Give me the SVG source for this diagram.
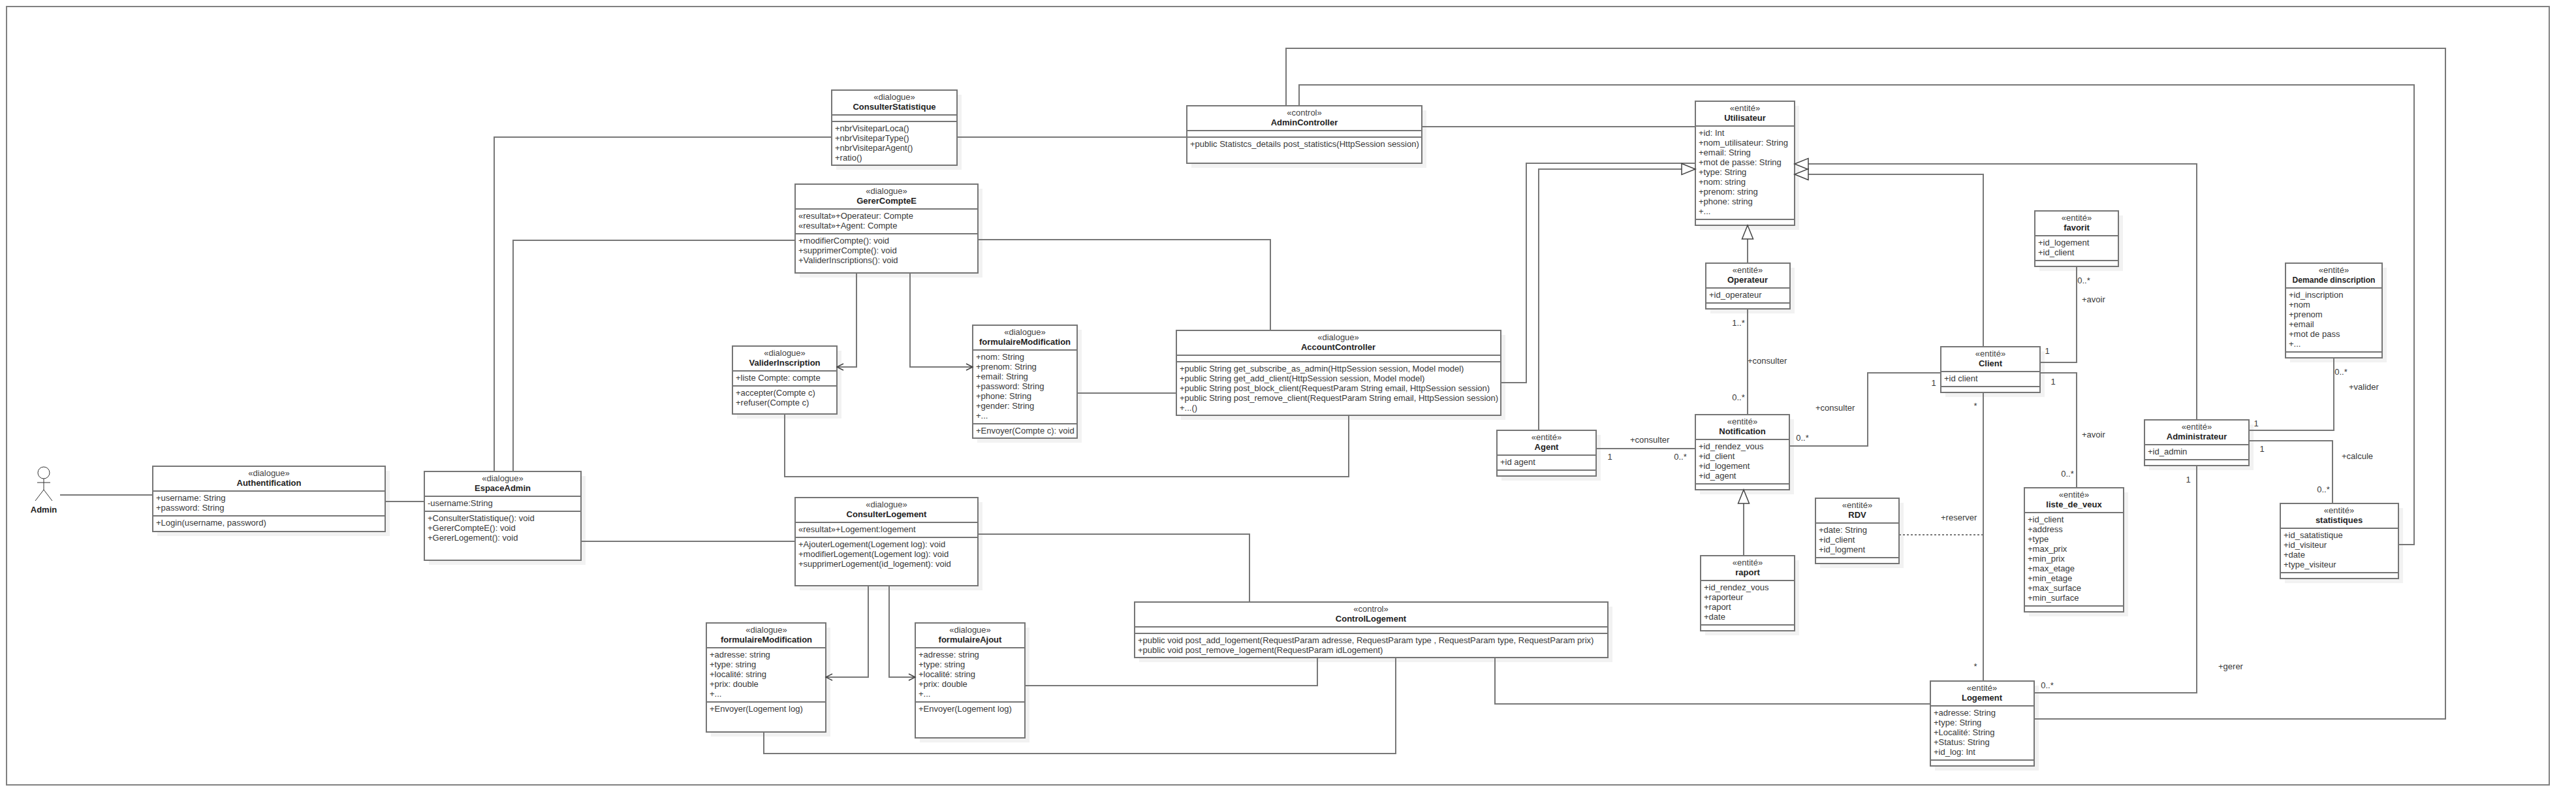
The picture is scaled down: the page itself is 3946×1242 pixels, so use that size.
<svg xmlns="http://www.w3.org/2000/svg" width="3946" height="1242" viewBox="0 0 3946 1242">
<style>
text{font-family:"Liberation Sans",Arial,sans-serif;font-size:13px;fill:#383838}
.st{text-anchor:middle;fill:#444}
.nm{text-anchor:middle;font-weight:bold;fill:#222}
.sh{fill:#f2f2f2;stroke:none}
.bx{fill:#fff;stroke:#757575;stroke-width:2}
.dv{fill:none;stroke:#757575;stroke-width:2}
.c{fill:none;stroke:#777;stroke-width:2}
.dot{fill:none;stroke:#777;stroke-width:2;stroke-dasharray:3 3}
.fr{fill:none;stroke:#808080;stroke-width:2}
.gen{marker-end:url(#tri)}
.dep{marker-end:url(#open)}
.la{text-anchor:middle}
.ac{fill:none;stroke:#333;stroke-width:1}
</style>
<defs>
<marker id="tri" markerUnits="userSpaceOnUse" markerWidth="24" markerHeight="22" refX="22" refY="10" orient="auto"><path d="M1 1.5L22 10L1 18.5Z" fill="#fff" stroke="#444" stroke-width="1.5"/></marker>
<marker id="open" markerUnits="userSpaceOnUse" markerWidth="13" markerHeight="14" refX="11" refY="6" orient="auto"><path d="M1 1L11 6L1 11" fill="none" stroke="#444" stroke-width="1.5"/></marker>
</defs>
<rect width="3946" height="1242" fill="#fff"/>
<rect id="frame" class="fr" x="10" y="10" width="3895" height="1192"/>

<g id="actor-admin">
<ellipse class="ac" cx="67" cy="724" rx="9" ry="9"/>
<path class="ac" d="M67 733V750M57 739H77M67 750L54 767M67 750L80 767"/>
<text class="nm" x="67" y="785">Admin</text>
</g>

<g id="n-authentification">
<rect class="sh" x="241" y="721" width="356" height="100"/><rect class="bx" x="234" y="714" width="356" height="100"/>
<path class="dv" d="M234 752H590M234 790H590"/>
<text class="st" x="412" y="729">«dialogue»</text><text class="nm" x="412" y="744">Authentification</text>
<text x="239" y="767">+username: String</text><text x="239" y="782">+password: String</text>
<text x="239" y="805">+Login(username, password)</text>
</g>

<g id="n-espaceadmin">
<rect class="sh" x="657" y="729" width="240" height="136"/><rect class="bx" x="650" y="722" width="240" height="136"/>
<path class="dv" d="M650 760H890M650 783H890"/>
<text class="st" x="770" y="737">«dialogue»</text><text class="nm" x="770" y="752">EspaceAdmin</text>
<text x="655" y="775">-username:String</text>
<text x="655" y="798">+ConsulterStatistique(): void</text><text x="655" y="813">+GererCompteE(): void</text><text x="655" y="828">+GererLogement(): void</text>
</g>

<g id="n-consulterstatistique">
<rect class="sh" x="1281" y="145" width="192" height="115"/><rect class="bx" x="1274" y="138" width="192" height="115"/>
<path class="dv" d="M1274 176H1466M1274 186H1466"/>
<text class="st" x="1370" y="153">«dialogue»</text><text class="nm" x="1370" y="168">ConsulterStatistique</text>
<text x="1279" y="201">+nbrVisiteparLoca()</text><text x="1279" y="216">+nbrVisiteparType()</text><text x="1279" y="231">+nbrVisiteparAgent()</text><text x="1279" y="246">+ratio()</text>
</g>

<g id="n-gerercomptee">
<rect class="sh" x="1225" y="289" width="280" height="136"/><rect class="bx" x="1218" y="282" width="280" height="136"/>
<path class="dv" d="M1218 320H1498M1218 358H1498"/>
<text class="st" x="1358" y="297">«dialogue»</text><text class="nm" x="1358" y="312">GererCompteE</text>
<text x="1223" y="335">«resultat»+Operateur: Compte</text><text x="1223" y="350">«resultat»+Agent: Compte</text>
<text x="1223" y="373">+modifierCompte(): void</text><text x="1223" y="388">+supprimerCompte(): void</text><text x="1223" y="403">+ValiderInscriptions(): void</text>
</g>

<g id="n-validerinscription">
<rect class="sh" x="1129" y="537" width="160" height="104"/><rect class="bx" x="1122" y="530" width="160" height="104"/>
<path class="dv" d="M1122 568H1282M1122 591H1282"/>
<text class="st" x="1202" y="545">«dialogue»</text><text class="nm" x="1202" y="560">ValiderInscription</text>
<text x="1127" y="583">+liste Compte: compte</text>
<text x="1127" y="606">+accepter(Compte c)</text><text x="1127" y="621">+refuser(Compte c)</text>
</g>

<g id="n-formulairemodification-compte">
<rect class="sh" x="1497" y="505" width="160" height="173"/><rect class="bx" x="1490" y="498" width="160" height="173"/>
<path class="dv" d="M1490 536H1650M1490 649H1650"/>
<text class="st" x="1570" y="513">«dialogue»</text><text class="nm" x="1570" y="528">formulaireModification</text>
<text x="1495" y="551">+nom: String</text><text x="1495" y="566">+prenom: String</text><text x="1495" y="581">+email: String</text><text x="1495" y="596">+password: String</text><text x="1495" y="611">+phone: String</text><text x="1495" y="626">+gender: String</text><text x="1495" y="641">+...</text>
<text x="1495" y="664">+Envoyer(Compte c): void</text>
</g>

<g id="n-consulterlogement">
<rect class="sh" x="1225" y="769" width="280" height="135"/><rect class="bx" x="1218" y="762" width="280" height="135"/>
<path class="dv" d="M1218 800H1498M1218 823H1498"/>
<text class="st" x="1358" y="777">«dialogue»</text><text class="nm" x="1358" y="792">ConsulterLogement</text>
<text x="1223" y="815">«resultat»+Logement:logement</text>
<text x="1223" y="838">+AjouterLogement(Logement log): void</text><text x="1223" y="853">+modifierLogement(Logement log): void</text><text x="1223" y="868">+supprimerLogement(id_logement): void</text>
</g>

<g id="n-formulairemodification-logement">
<rect class="sh" x="1089" y="961" width="183" height="167"/><rect class="bx" x="1082" y="954" width="183" height="167"/>
<path class="dv" d="M1082 992H1265M1082 1075H1265"/>
<text class="st" x="1174" y="969">«dialogue»</text><text class="nm" x="1174" y="984">formulaireModification</text>
<text x="1087" y="1007">+adresse: string</text><text x="1087" y="1022">+type: string</text><text x="1087" y="1037">+localité: string</text><text x="1087" y="1052">+prix: double</text><text x="1087" y="1067">+...</text>
<text x="1087" y="1090">+Envoyer(Logement log)</text>
</g>

<g id="n-formulaireajout">
<rect class="sh" x="1409" y="961" width="168" height="176"/><rect class="bx" x="1402" y="954" width="168" height="176"/>
<path class="dv" d="M1402 992H1570M1402 1075H1570"/>
<text class="st" x="1486" y="969">«dialogue»</text><text class="nm" x="1486" y="984">formulaireAjout</text>
<text x="1407" y="1007">+adresse: string</text><text x="1407" y="1022">+type: string</text><text x="1407" y="1037">+localité: string</text><text x="1407" y="1052">+prix: double</text><text x="1407" y="1067">+...</text>
<text x="1407" y="1090">+Envoyer(Logement log)</text>
</g>

<g id="n-admincontroller">
<rect class="sh" x="1825" y="169" width="360" height="88"/><rect class="bx" x="1818" y="162" width="360" height="88"/>
<path class="dv" d="M1818 200H2178M1818 210H2178"/>
<text class="st" x="1998" y="177">«control»</text><text class="nm" x="1998" y="192">AdminController</text>
<text x="1823" y="225">+public Statistcs_details post_statistics(HttpSession session)</text>
</g>

<g id="n-accountcontroller">
<rect class="sh" x="1809" y="513" width="497" height="130"/><rect class="bx" x="1802" y="506" width="497" height="130"/>
<path class="dv" d="M1802 544H2299M1802 554H2299"/>
<text class="st" x="2050" y="521">«dialogue»</text><text class="nm" x="2050" y="536">AccountController</text>
<text x="1807" y="569">+public String get_subscribe_as_admin(HttpSession session, Model model)</text>
<text x="1807" y="584">+public String get_add_client(HttpSession session, Model model)</text>
<text x="1807" y="599">+public String post_block_client(RequestParam String email, HttpSession session)</text>
<text x="1807" y="614">+public String post_remove_client(RequestParam String email, HttpSession session)</text>
<text x="1807" y="629">+...()</text>
</g>

<g id="n-controllogement">
<rect class="sh" x="1745" y="929" width="725" height="85"/><rect class="bx" x="1738" y="922" width="725" height="85"/>
<path class="dv" d="M1738 960H2463M1738 970H2463"/>
<text class="st" x="2100" y="937">«control»</text><text class="nm" x="2100" y="952">ControlLogement</text>
<text x="1743" y="985">+public void post_add_logement(RequestParam adresse, RequestParam type , RequestParam type, RequestParam prix)</text>
<text x="1743" y="1000">+public void post_remove_logement(RequestParam idLogement)</text>
</g>

<g id="n-utilisateur">
<rect class="sh" x="2604" y="162" width="152" height="190"/><rect class="bx" x="2597" y="155" width="152" height="190"/>
<path class="dv" d="M2597 193H2749M2597 336H2749"/>
<text class="st" x="2673" y="170">«entité»</text><text class="nm" x="2673" y="185">Utilisateur</text>
<text x="2602" y="208">+id: Int</text><text x="2602" y="223">+nom_utilisateur: String</text><text x="2602" y="238">+email: String</text><text x="2602" y="253">+mot de passe: String</text><text x="2602" y="268">+type: String</text><text x="2602" y="283">+nom: string</text><text x="2602" y="298">+prenom: string</text><text x="2602" y="313">+phone: string</text><text x="2602" y="328">+...</text>
</g>

<g id="n-operateur">
<rect class="sh" x="2620" y="410" width="129" height="70"/><rect class="bx" x="2613" y="403" width="129" height="70"/>
<path class="dv" d="M2613 441H2742M2613 464H2742"/>
<text class="st" x="2677" y="418">«entité»</text><text class="nm" x="2677" y="433">Operateur</text>
<text x="2618" y="456">+id_operateur</text>
</g>

<g id="n-notification">
<rect class="sh" x="2604" y="642" width="144" height="115"/><rect class="bx" x="2597" y="635" width="144" height="115"/>
<path class="dv" d="M2597 673H2741M2597 741H2741"/>
<text class="st" x="2669" y="650">«entité»</text><text class="nm" x="2669" y="665">Notification</text>
<text x="2602" y="688">+id_rendez_vous</text><text x="2602" y="703">+id_client</text><text x="2602" y="718">+id_logement</text><text x="2602" y="733">+id_agent</text>
</g>

<g id="n-agent">
<rect class="sh" x="2300" y="666" width="152" height="70"/><rect class="bx" x="2293" y="659" width="152" height="70"/>
<path class="dv" d="M2293 697H2445M2293 720H2445"/>
<text class="st" x="2369" y="674">«entité»</text><text class="nm" x="2369" y="689">Agent</text>
<text x="2298" y="712">+id agent</text>
</g>

<g id="n-raport">
<rect class="sh" x="2612" y="858" width="144" height="115"/><rect class="bx" x="2605" y="851" width="144" height="115"/>
<path class="dv" d="M2605 889H2749M2605 957H2749"/>
<text class="st" x="2677" y="866">«entité»</text><text class="nm" x="2677" y="881">raport</text>
<text x="2610" y="904">+id_rendez_vous</text><text x="2610" y="919">+raporteur</text><text x="2610" y="934">+raport</text><text x="2610" y="949">+date</text>
</g>

<g id="n-rdv">
<rect class="sh" x="2788" y="770" width="128" height="100"/><rect class="bx" x="2781" y="763" width="128" height="100"/>
<path class="dv" d="M2781 801H2909M2781 854H2909"/>
<text class="st" x="2845" y="778">«entité»</text><text class="nm" x="2845" y="793">RDV</text>
<text x="2786" y="816">+date: String</text><text x="2786" y="831">+id_client</text><text x="2786" y="846">+id_logment</text>
</g>

<g id="n-logement">
<rect class="sh" x="2964" y="1050" width="159" height="130"/><rect class="bx" x="2957" y="1043" width="159" height="130"/>
<path class="dv" d="M2957 1081H3116M2957 1164H3116"/>
<text class="st" x="3036" y="1058">«entité»</text><text class="nm" x="3036" y="1073">Logement</text>
<text x="2962" y="1096">+adresse: String</text><text x="2962" y="1111">+type: String</text><text x="2962" y="1126">+Localité: String</text><text x="2962" y="1141">+Status: String</text><text x="2962" y="1156">+id_log: Int</text>
</g>

<g id="n-favorit">
<rect class="sh" x="3124" y="330" width="128" height="85"/><rect class="bx" x="3117" y="323" width="128" height="85"/>
<path class="dv" d="M3117 361H3245M3117 399H3245"/>
<text class="st" x="3181" y="338">«entité»</text><text class="nm" x="3181" y="353">favorit</text>
<text x="3122" y="376">+id_logement</text><text x="3122" y="391">+id_client</text>
</g>

<g id="n-client">
<rect class="sh" x="2980" y="538" width="152" height="70"/><rect class="bx" x="2973" y="531" width="152" height="70"/>
<path class="dv" d="M2973 569H3125M2973 592H3125"/>
<text class="st" x="3049" y="546">«entité»</text><text class="nm" x="3049" y="561">Client</text>
<text x="2978" y="584">+id client</text>
</g>

<g id="n-liste-de-veux">
<rect class="sh" x="3108" y="754" width="152" height="190"/><rect class="bx" x="3101" y="747" width="152" height="190"/>
<path class="dv" d="M3101 785H3253M3101 928H3253"/>
<text class="st" x="3177" y="762">«entité»</text><text class="nm" x="3177" y="777">liste_de_veux</text>
<text x="3106" y="800">+id_client</text><text x="3106" y="815">+address</text><text x="3106" y="830">+type</text><text x="3106" y="845">+max_prix</text><text x="3106" y="860">+min_prix</text><text x="3106" y="875">+max_etage</text><text x="3106" y="890">+min_etage</text><text x="3106" y="905">+max_surface</text><text x="3106" y="920">+min_surface</text>
</g>

<g id="n-administrateur">
<rect class="sh" x="3292" y="650" width="160" height="70"/><rect class="bx" x="3285" y="643" width="160" height="70"/>
<path class="dv" d="M3285 681H3445M3285 704H3445"/>
<text class="st" x="3365" y="658">«entité»</text><text class="nm" x="3365" y="673">Administrateur</text>
<text x="3290" y="696">+id_admin</text>
</g>

<g id="n-demande-inscription">
<rect class="sh" x="3508" y="410" width="148" height="145"/><rect class="bx" x="3501" y="403" width="148" height="145"/>
<path class="dv" d="M3501 441H3649M3501 539H3649"/>
<text class="st" x="3575" y="418">«entité»</text><text class="nm" x="3575" y="433" textLength="127" lengthAdjust="spacingAndGlyphs">Demande dinscription</text>
<text x="3506" y="456">+id_inscription</text><text x="3506" y="471">+nom</text><text x="3506" y="486">+prenom</text><text x="3506" y="501">+email</text><text x="3506" y="516">+mot de pass</text><text x="3506" y="531">+...</text>
</g>

<g id="n-statistiques">
<rect class="sh" x="3500" y="778" width="181" height="115"/><rect class="bx" x="3493" y="771" width="181" height="115"/>
<path class="dv" d="M3493 809H3674M3493 877H3674"/>
<text class="st" x="3583" y="786">«entité»</text><text class="nm" x="3583" y="801">statistiques</text>
<text x="3498" y="824">+id_satatistique</text><text x="3498" y="839">+id_visiteur</text><text x="3498" y="854">+date</text><text x="3498" y="869">+type_visiteur</text>
</g>

<g id="connectors">
<path class="c" d="M92 758H234"/>
<path class="c" d="M590 768H650"/>
<path class="c" d="M890 829H1218"/>
<path class="c" d="M757 722V210H1274"/>
<path class="c" d="M786 722V368H1218"/>
<path class="c" d="M1466 210H1818"/>
<path class="c" d="M1970 162V74H3746V1101H3116"/>
<path class="c" d="M1990 162V130H3698V834H3674"/>
<path class="c" d="M2178 194H2597"/>
<path class="c" d="M2299 586H2338V250H2597"/>
<path class="c gen" d="M2357 659V259H2597"/>
<path class="c gen" d="M3365 643V251H2749"/>
<path class="c gen" d="M3038 531V267H2749"/>
<path class="c gen" d="M2677 403V345"/>
<path class="c" d="M2677 473V635"/>
<path class="c" d="M2445 687H2597"/>
<path class="c" d="M2741 683H2861V571H2973"/>
<path class="c" d="M3038 601V1043"/>
<path class="dot" d="M2909 819H3038"/>
<path class="c gen" d="M2671 851V750"/>
<path class="c" d="M3125 555H3181V408"/>
<path class="c" d="M3125 571H3181V747"/>
<path class="c" d="M3445 659H3575V548"/>
<path class="c" d="M3445 675H3573V771"/>
<path class="c" d="M3365 713V1061H3116"/>
<path class="c" d="M2290 1007V1078H2957"/>
<path class="c" d="M1914 922V818H1498"/>
<path class="c dep" d="M1330 897V1037H1265"/>
<path class="c dep" d="M1362 897V1037H1402"/>
<path class="c" d="M1570 1050H2018V1007"/>
<path class="c" d="M1170 1121V1154H2138V1007"/>
<path class="c dep" d="M1312 418V562H1282"/>
<path class="c dep" d="M1394 418V562H1490"/>
<path class="c" d="M1498 367H1946V506"/>
<path class="c" d="M1650 602H1802"/>
<path class="c" d="M1202 634V730H2066V636"/>
<text class="la" x="2663" y="499">1..*</text>
<text x="2677" y="557">+consulter</text>
<text class="la" x="2663" y="613">0..*</text>
<text x="2497" y="678">+consulter</text>
<text class="la" x="2466" y="704">1</text>
<text class="la" x="2574" y="704">0..*</text>
<text class="la" x="2761" y="675">0..*</text>
<text x="2781" y="629">+consulter</text>
<text class="la" x="2962" y="591">1</text>
<text class="la" x="3026" y="626">*</text>
<text class="la" x="3026" y="1025">*</text>
<text x="2973" y="797">+reserver</text>
<text class="la" x="3136" y="542">1</text>
<text class="la" x="3192" y="434">0..*</text>
<text x="3189" y="463">+avoir</text>
<text class="la" x="3145" y="589">1</text>
<text x="3189" y="670">+avoir</text>
<text class="la" x="3167" y="730">0..*</text>
<text class="la" x="3456" y="653">1</text>
<text class="la" x="3586" y="574">0..*</text>
<text x="3598" y="597">+valider</text>
<text class="la" x="3465" y="692">1</text>
<text x="3587" y="703">+calcule</text>
<text class="la" x="3559" y="754">0..*</text>
<text class="la" x="3352" y="739">1</text>
<text x="3398" y="1025">+gerer</text>
<text class="la" x="3136" y="1054">0..*</text>
</g>
</svg>
